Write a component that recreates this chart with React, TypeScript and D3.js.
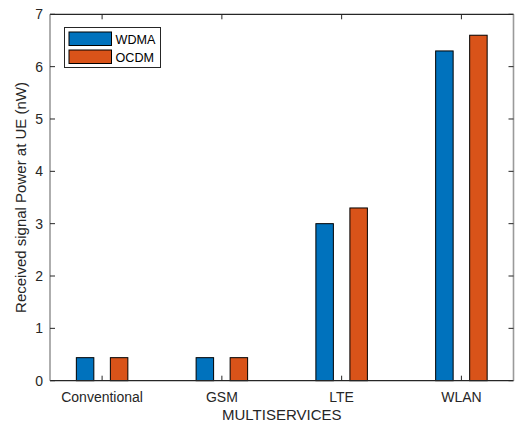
import React from "react";
import * as d3 from "d3";

const categories = ["Conventional", "GSM", "LTE", "WLAN"];
const seriesNames = ["WDMA", "OCDM"];
const wdma = [0.44, 0.44, 3.0, 6.3];
const ocdm = [0.44, 0.44, 3.3, 6.6];
const yTicks = [0, 1, 2, 3, 4, 5, 6, 7];
const colors = ["#0072BD", "#D95319"];

const W = 519;
const H = 423;
const left = 50;
const right = 513.5;
const top = 14.3;
const bottom = 380.7;
const font = "'Liberation Sans', Arial, sans-serif";
const textColor = "#262626";

export default function App() {
  const x = d3.scaleLinear().domain([0.565, 4.435]).range([left, right]);
  const y = d3.scaleLinear().domain([0, 7]).range([bottom, top]);
  const unit = x(1) - x(0);
  const barW = 0.146 * unit;
  const offs = [-0.142, 0.142];
  const series = [wdma, ocdm];
  const tickLen = 5;

  return (
    <svg width={W} height={H} style={{ position: "absolute", left: 0, top: 0, background: "#fff" }}>
      <rect x={0} y={0} width={W} height={H} fill="#fff" />
      {series.map((vals, si) =>
        vals.map((v, i) => (
          <rect
            key={`${si}-${i}`}
            x={x(i + 1 + offs[si]) - barW / 2}
            y={y(v)}
            width={barW}
            height={y(0) - y(v)}
            fill={colors[si]}
            stroke="#000"
            strokeWidth={1}
          />
        ))
      )}
      {/* axes box */}
      <line x1={left} x2={right} y1={bottom} y2={bottom} stroke={textColor} strokeWidth={1.3} />
      <line x1={left} x2={right} y1={top} y2={top} stroke={textColor} strokeWidth={1.3} />
      <line x1={left} x2={left} y1={top} y2={bottom} stroke="#9a9a9a" strokeWidth={1.6} />
      <line x1={right} x2={right} y1={top} y2={bottom} stroke="#9a9a9a" strokeWidth={1.6} />
      {/* x ticks */}
      {categories.map((c, i) => (
        <g key={c}>
          <line x1={x(i + 1)} x2={x(i + 1)} y1={bottom} y2={bottom - tickLen} stroke={textColor} />
          <line x1={x(i + 1)} x2={x(i + 1)} y1={top} y2={top + tickLen} stroke={textColor} />
          <text x={x(i + 1)} y={401.5} textAnchor="middle" fontFamily={font} fontSize={14} fill={textColor}>
            {c}
          </text>
        </g>
      ))}
      {/* y ticks */}
      {yTicks.map((t) => (
        <g key={t}>
          <line x1={left} x2={left + tickLen} y1={y(t)} y2={y(t)} stroke={textColor} />
          <line x1={right} x2={right - tickLen} y1={y(t)} y2={y(t)} stroke={textColor} />
          <text x={43} y={y(t) + 5} textAnchor="end" fontFamily={font} fontSize={14} fill={textColor}>
            {t}
          </text>
        </g>
      ))}
      <text x={(left + right) / 2} y={419.5} textAnchor="middle" fontFamily={font} fontSize={15} fill={textColor}>
        MULTISERVICES
      </text>
      <text
        transform={`translate(26,${(top + bottom) / 2}) rotate(-90)`}
        textAnchor="middle"
        fontFamily={font}
        fontSize={15}
        fill={textColor}
      >
        Received signal Power at UE (nW)
      </text>
      {/* legend */}
      <rect x={64.5} y={27.5} width={96} height={40} fill="#fff" stroke={textColor} strokeWidth={1} />
      {seriesNames.map((n, i) => (
        <g key={n}>
          <rect x={69} y={32 + i * 18} width={42.5} height={13.5} fill={colors[i]} stroke="#000" strokeWidth={1} />
          <text x={115.5} y={43.5 + i * 18} fontFamily={font} fontSize={12.6} fill="#000">
            {n}
          </text>
        </g>
      ))}
    </svg>
  );
}
